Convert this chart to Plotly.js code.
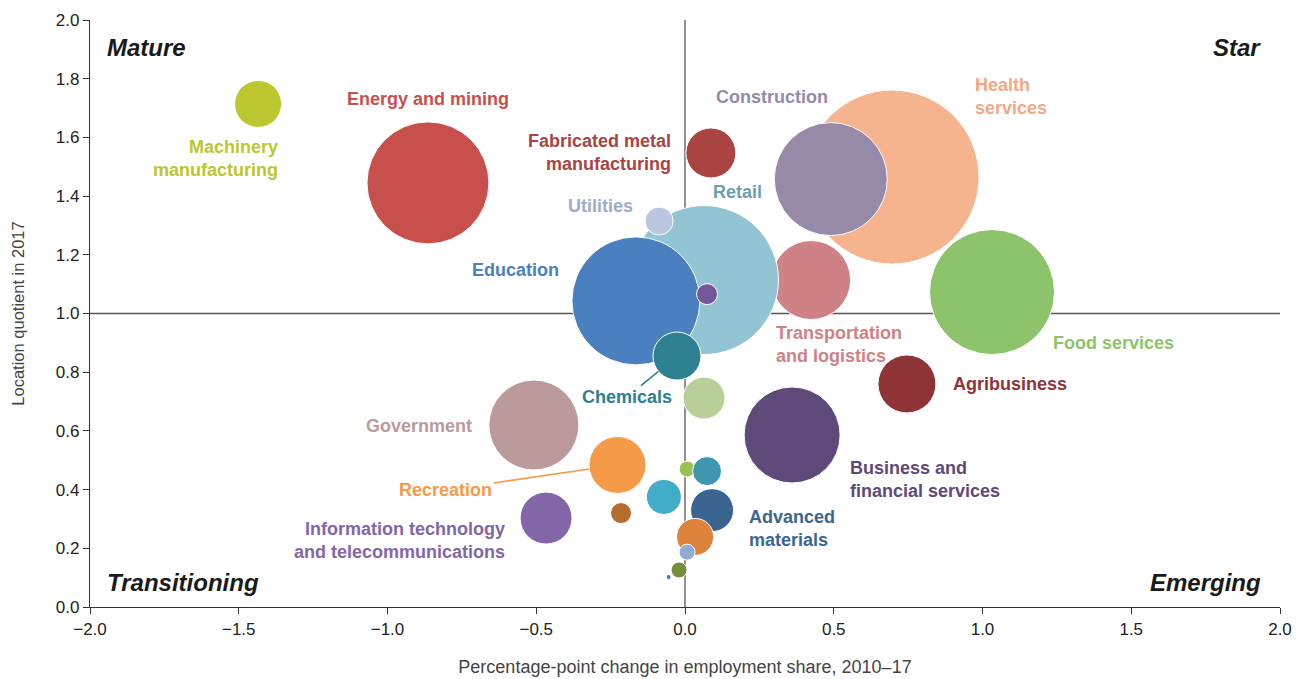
<!DOCTYPE html>
<html>
<head>
<meta charset="utf-8">
<script src="https://cdn.plot.ly/plotly-3.0.1.min.js"></script>
<style>
  html, body { margin: 0; padding: 0; background: #fff; }
  #chart { width: 1299px; height: 679px; }
</style>
</head>
<body>
<div id="chart"></div>
<script>
// industries, drawn back to front
const industry = [
    "Health services", "Construction", "Energy and mining", "Machinery manufacturing",
    "Fabricated metal manufacturing", "Food services", "Transportation and logistics", "Retail",
    "Utilities", "Education", "", "Chemicals", "Agribusiness", "Business and financial services",
    "", "Government", "Recreation", "Information technology and telecommunications",
    "", "", "", "", "Advanced materials", "", "", "", ""
];
const shareChange = [
    0.696, 0.490, -0.864, -1.435,
    0.087, 1.032, 0.424, 0.064,
    -0.087, -0.165, 0.074, -0.027, 0.746, 0.360,
    0.064, -0.508, -0.227, -0.467,
    -0.071, -0.215, 0.007, 0.074, 0.091, 0.034, 0.007, -0.020, -0.055
];
const locationQuotient = [
    1.465, 1.458, 1.445, 1.714,
    1.547, 1.073, 1.114, 1.114,
    1.315, 1.043, 1.066, 0.855, 0.760, 0.586,
    0.712, 0.620, 0.484, 0.303,
    0.375, 0.320, 0.470, 0.463, 0.330, 0.239, 0.187, 0.126, 0.102
];
const employmentSize = [
    174, 113, 122, 47,
    50, 125, 79, 149,
    28, 128, 21, 48, 58, 96,
    42, 90, 57, 52,
    35, 21, 16, 29, 43, 37, 16, 16, 5
];
const bubbleColor = [
    "#F6B48E", "#9789A8", "#C8504C", "#BCC62F",
    "#A94442", "#8DC46B", "#CF8285", "#92C4D4",
    "#BDC6E0", "#4A80BF", "#74579A", "#2E8090", "#8E3436", "#5E4978",
    "#B8CF98", "#BC9A9B", "#F59A48", "#8266A8",
    "#41ADC8", "#B56E30", "#9BBF50", "#3E97AE", "#3A6591", "#DC823A", "#93ABD3", "#748E3C", "#4A7BB8"
];

// label text and placement relative to its bubble (pixels); optional own colour
const labelText = {
    "Machinery manufacturing": ["Machinery<br>manufacturing", "right", 22, -55],
    "Energy and mining": ["Energy and mining", "center", 0, 84],
    "Fabricated metal manufacturing": ["Fabricated metal<br>manufacturing", "right", -38, 0],
    "Construction": ["Construction", "center", -59, 82],
    "Health services": ["Health<br>services", "left", 81, 81, "#F2A882"],
    "Retail": ["Retail", "center", 33, 88, "#6E9FAE"],
    "Utilities": ["Utilities", "right", -24, 15, "#9EACC9"],
    "Education": ["Education", "right", -75, 31],
    "Transportation and logistics": ["Transportation<br>and logistics", "left", -37, -64],
    "Food services": ["Food services", "left", 59, -51],
    "Agribusiness": ["Agribusiness", "left", 44, 0],
    "Government": ["Government", "right", -60, -1],
    "Business and financial services": ["Business and<br>financial services", "left", 56, -44],
    "Advanced materials": ["Advanced<br>materials", "left", 35, -18],
    "Information technology and telecommunications": ["Information technology<br>and telecommunications", "right", -39, -22]
};
// labels joined to their bubble with a leader line
const leaderText = {
    "Chemicals": ["Chemicals", -50, 41],
    "Recreation": ["Recreation", -172, 25]
};

const quadrants = ["Mature", "Star", "Transitioning", "Emerging"];

const font = "Liberation Sans, Arial, Helvetica, sans-serif";

function drawBubbles() {
    const data = [{
        x: shareChange,
        y: locationQuotient,
        text: industry,
        mode: "markers",
        type: "scatter",
        hoverinfo: "text",
        marker: {
            size: employmentSize,
            sizemode: "diameter",
            sizeref: 1,
            color: bubbleColor,
            opacity: 1,
            line: {color: "#ffffff", width: 1}
        }
    }];

    const annotations = [];
    for (let i = 0; i < industry.length; i++) {
        const name = industry[i];
        if (labelText[name]) {
            const l = labelText[name];
            annotations.push({
                x: shareChange[i], y: locationQuotient[i], xref: "x", yref: "y",
                text: l[0], showarrow: false, align: l[1],
                xanchor: l[1], yanchor: "middle", xshift: l[2], yshift: l[3],
                font: {family: font, size: 18, color: l[4] || bubbleColor[i], weight: "bold"}
            });
        }
        if (leaderText[name]) {
            const l = leaderText[name];
            annotations.push({
                x: shareChange[i], y: locationQuotient[i], xref: "x", yref: "y",
                text: "<b>" + l[0] + "</b>", showarrow: true, arrowhead: 0, arrowwidth: 1.6,
                arrowcolor: bubbleColor[i], ax: l[1], ay: l[2],
                standoff: employmentSize[i] / 2,
                font: {family: font, size: 18, color: bubbleColor[i]}
            });
        }
    }

    // quadrant names
    const qPos = [[0.013, 0.954, "left"], [0.986, 0.954, "right"], [0.013, 0.041, "left"], [0.986, 0.041, "right"]];
    for (let i = 0; i < quadrants.length; i++) {
        annotations.push({
            x: qPos[i][0], y: qPos[i][1], xref: "paper", yref: "paper",
            text: "<b><i>" + quadrants[i] + "</i></b>", showarrow: false,
            xanchor: qPos[i][2], yanchor: "middle",
            font: {family: font, size: 24, color: "#1a1a1a"}
        });
    }

    const layout = {
        width: 1299,
        height: 679,
        margin: {l: 90, r: 19, t: 20, b: 72},
        paper_bgcolor: "#ffffff",
        plot_bgcolor: "#ffffff",
        showlegend: false,
        font: {family: font, color: "#222"},
        xaxis: {
            range: [-2, 2],
            tickvals: [-2, -1.5, -1, -0.5, 0, 0.5, 1, 1.5, 2],
            tickformat: ".1f",
            showgrid: false,
            zeroline: false,
            showline: true,
            linecolor: "#333",
            linewidth: 1.2,
            ticks: "outside",
            ticklen: 6,
            tickcolor: "#333",
            tickfont: {size: 17, color: "#222"},
            title: {text: "Percentage-point change in employment share, 2010–17",
                    font: {size: 18, color: "#444"}, standoff: 22}
        },
        yaxis: {
            range: [0, 2],
            dtick: 0.2,
            tickformat: ".1f",
            showgrid: false,
            zeroline: false,
            showline: true,
            linecolor: "#333",
            linewidth: 1.2,
            ticks: "outside",
            ticklen: 6,
            tickcolor: "#333",
            tickfont: {size: 17, color: "#222"},
            title: {text: "Location quotient in 2017", font: {size: 16.5, color: "#444"}, standoff: 27}
        },
        shapes: [
            {type: "line", xref: "x", yref: "y", x0: 0, x1: 0, y0: 0, y1: 2,
             line: {color: "#555", width: 1.3}, layer: "below"},
            {type: "line", xref: "x", yref: "y", x0: -2, x1: 2, y0: 1, y1: 1,
             line: {color: "#555", width: 1.3}, layer: "below"}
        ],
        annotations: annotations
    };

    Plotly.newPlot("chart", data, layout, {displayModeBar: false, responsive: false});
}

drawBubbles();
</script>
</body>
</html>
